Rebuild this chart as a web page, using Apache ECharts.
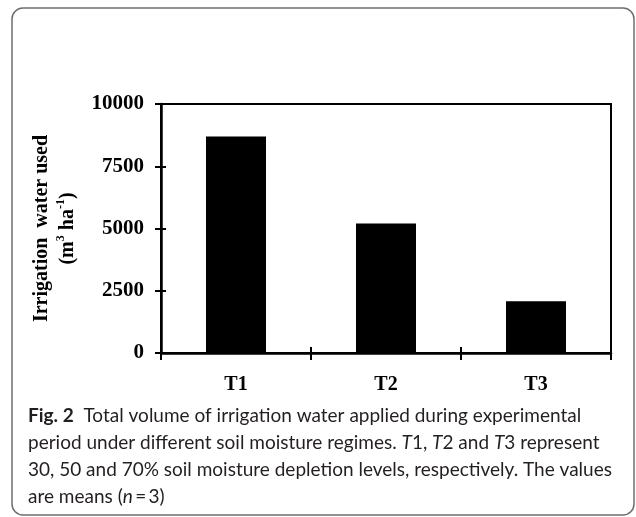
<!DOCTYPE html>
<html>
<head>
<meta charset="utf-8">
<script src="https://cdn.jsdelivr.net/npm/echarts@6/dist/echarts.min.js"></script>
<style>
  html, body { margin: 0; padding: 0; background: #fff; }
  #chart { width: 636px; height: 517px; }
</style>
</head>
<body>
<div id="chart"></div>
<script>
// data
const categories = ['T1', 'T2', 'T3']
const waterUsed = [8690, 5200, 2080]
const yTicks = [0, 2500, 5000, 7500, 10000]

const captionLines = [
  '{b|Fig. 2}  Total volume of irrigation water applied during experimental',
  'period under different soil moisture regimes. {i|T}1, {i|T}2 and {i|T}3 represent',
  '30, 50 and 70% soil moisture depletion levels, respectively. The values',
  'are means ({i|n}\u2009=\u20093)'
]

const serif = '"Liberation Serif", "Times New Roman", serif'
const sans = 'Lato, "Open Sans", sans-serif'

const chart = echarts.init(document.getElementById('chart'))

const yMin = yTicks[0]
const yMax = yTicks[yTicks.length - 1]
const yStep = yTicks[1] - yTicks[0]

const option = {
  animation: false,
  backgroundColor: '#fff',
  grid: {
    left: 161,
    top: 104,
    right: 25,
    bottom: 164,
    show: true,
    borderColor: '#000',
    borderWidth: 2,
    containLabel: false
  },
  xAxis: [
    {
      type: 'category',
      data: categories,
      position: 'bottom',
      axisLine: { lineStyle: { color: '#000', width: 2.5 } },
      axisTick: { show: true, length: 7, lineStyle: { color: '#000', width: 2 } },
      axisLabel: {
        color: '#000',
        fontFamily: serif,
        fontWeight: 'bold',
        fontSize: 20,
        margin: 22
      }
    },
    {
      // inner half of the crossing ticks
      type: 'category',
      data: categories,
      position: 'bottom',
      axisLine: { show: false },
      axisTick: { show: true, inside: true, length: 6, lineStyle: { color: '#000', width: 2 } },
      axisLabel: { show: false }
    }
  ],
  yAxis: [
    {
      type: 'value',
      min: yMin,
      max: yMax,
      interval: yStep,
      position: 'left',
      name: 'Irrigation  water used\n(m{sup|3} ha{sup|-1})',
      nameLocation: 'middle',
      nameGap: 64,
      nameTextStyle: {
        color: '#000',
        fontFamily: serif,
        fontWeight: 'bold',
        fontSize: 20,
        lineHeight: 26,
        rich: {
          sup: {
            fontFamily: serif,
            fontWeight: 'bold',
            fontSize: 12,
            lineHeight: 14,
            verticalAlign: 'top',
            color: '#000'
          }
        }
      },
      axisLine: { show: true, lineStyle: { color: '#000', width: 2.5 } },
      axisTick: { show: true, length: 6, lineStyle: { color: '#000', width: 2 } },
      splitLine: { show: false },
      axisLabel: {
        color: '#000',
        fontFamily: serif,
        fontWeight: 'bold',
        fontSize: 21,
        margin: 17,
        formatter: (v) => String(v)
      }
    },
    {
      type: 'value',
      min: yMin,
      max: yMax,
      interval: yStep,
      position: 'left',
      axisLine: { show: false },
      axisTick: { show: true, inside: true, length: 5, lineStyle: { color: '#000', width: 2 } },
      splitLine: { show: false },
      axisLabel: { show: false }
    }
  ],
  series: [
    {
      type: 'bar',
      data: waterUsed,
      barWidth: '40%',
      itemStyle: { color: '#000' }
    }
  ],
  graphic: [
    {
      type: 'rect',
      shape: { x: 12, y: 8, width: 622, height: 507, r: 11 },
      style: { fill: 'none', stroke: '#6e6e6e', lineWidth: 1.5 },
      silent: true
    },
    {
      type: 'text',
      left: 28,
      top: 403,
      style: {
        text: captionLines.join('\n'),
        fill: '#231f20',
        font: '19px ' + sans,
        lineHeight: 26.7,
        rich: {
          b: { fontFamily: sans, fontWeight: 'bold', fontSize: 19, lineHeight: 26.7, fill: '#231f20' },
          i: { fontFamily: sans, fontStyle: 'italic', fontSize: 19, lineHeight: 26.7, fill: '#231f20' }
        }
      }
    }
  ]
}

chart.setOption(option)
window.addEventListener('resize', () => chart.resize())
</script>
</body>
</html>
